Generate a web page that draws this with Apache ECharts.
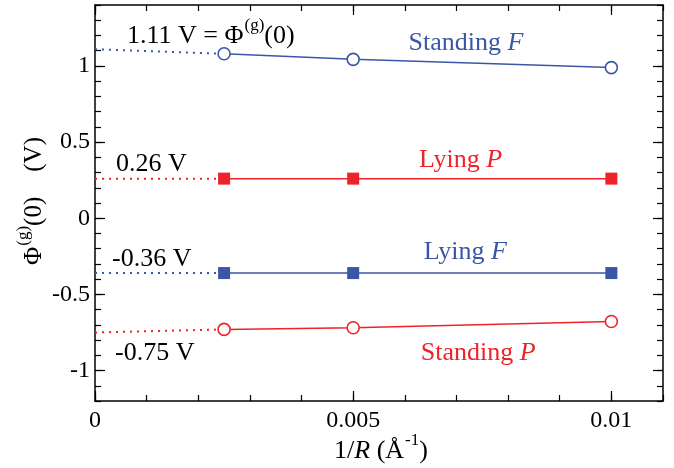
<!DOCTYPE html>
<html>
<head>
<meta charset="utf-8">
<script src="https://cdn.jsdelivr.net/npm/echarts@6/dist/echarts.min.js"></script>
<style>
  html, body { margin: 0; padding: 0; background: #fff; }
  #chart { width: 674px; height: 468px; }
</style>
</head>
<body>
<div id="chart"></div>
<script>
// Inverse cluster radius 1/R (Å^-1) at which the potential was computed
const invR = [0.0025, 0.005, 0.01];

// Φ^(g)(0) in volts for each configuration
const standingF = [1.08, 1.043, 0.989];
const lyingP = [0.26, 0.26, 0.26];
const lyingF = [-0.36, -0.36, -0.36];
const standingP = [-0.73, -0.719, -0.678];

// Extrapolated values at 1/R = 0
const limitStandingF = 1.11;
const limitLyingP = 0.26;
const limitLyingF = -0.36;
const limitStandingP = -0.75;

// Tick values
const xMajorTicks = [0, 0.005, 0.01];
const yMajorTicks = [-1, -0.5, 0, 0.5, 1];

const BLUE = '#3a56a6';
const RED = '#ee2229';
const FONT = '"Liberation Serif", "DejaVu Serif", serif';

const pairs = (xs, ys) => xs.map((x, i) => [x, ys[i]]);

const X_MIN = 0, X_MAX = 0.011, Y_MIN = -1.2, Y_MAX = 1.4;

function xAxisDef(pos, major, showLabels) {
  return {
    type: 'value', position: pos, min: X_MIN, max: X_MAX,
    interval: major ? 0.005 : 0.001,
    axisLine: { show: major, onZero: false, lineStyle: { color: '#000', width: 1.5 } },
    axisTick: major
      ? { inside: true, length: 10, customValues: xMajorTicks, lineStyle: { color: '#000', width: 1.2 } }
      : { inside: true, length: 6, lineStyle: { color: '#000', width: 1.2 } },
    axisLabel: major && showLabels
      ? { customValues: xMajorTicks, color: '#000', fontFamily: FONT, fontSize: 24, margin: 8,
          formatter: v => String(+v.toFixed(4)) }
      : { show: false },
    splitLine: { show: false }
  };
}

function yAxisDef(pos, major, showLabels) {
  return {
    type: 'value', position: pos, min: Y_MIN, max: Y_MAX,
    interval: 0.1,
    axisLine: { show: major, onZero: false, lineStyle: { color: '#000', width: 1.5 } },
    axisTick: major
      ? { inside: true, length: 10, customValues: yMajorTicks, lineStyle: { color: '#000', width: 1.2 } }
      : { inside: true, length: 6, lineStyle: { color: '#000', width: 1.2 } },
    axisLabel: major && showLabels
      ? { customValues: yMajorTicks, color: '#000', fontFamily: FONT, fontSize: 24, margin: 5,
          formatter: v => String(+v.toFixed(2)) }
      : { show: false },
    splitLine: { show: false }
  };
}

function fitSeries(name, ys, color, symbol) {
  return {
    name, type: 'line', xAxisIndex: 0, yAxisIndex: 0,
    data: pairs(invR, ys),
    symbol, symbolSize: symbol === 'circle' ? 12 : 12,
    showAllSymbol: true,
    lineStyle: { color, width: 1.5 },
    itemStyle: symbol === 'circle'
      ? { color: '#fff', borderColor: color, borderWidth: 1.6 }
      : { color, borderWidth: 0 },
    z: 3, animation: false
  };
}

function limitSeries(name, y0, y1, color) {
  return {
    name, type: 'line', xAxisIndex: 0, yAxisIndex: 0,
    data: [[0, y0], [invR[0], y1]],
    symbol: 'none',
    lineStyle: { color, width: 2, type: [2, 5] },
    z: 2, animation: false
  };
}

const chart = echarts.init(document.getElementById('chart'), null, { renderer: 'canvas' });

chart.setOption({
  backgroundColor: '#fff',
  animation: false,
  grid: { left: 95, right: 11, top: 5, bottom: 67, containLabel: false },
  xAxis: [
    xAxisDef('bottom', true, true),
    xAxisDef('bottom', false, false),
    xAxisDef('top', true, false),
    xAxisDef('top', false, false)
  ],
  yAxis: [
    yAxisDef('left', true, true),
    yAxisDef('left', false, false),
    yAxisDef('right', true, false),
    yAxisDef('right', false, false)
  ],
  series: [
    limitSeries('Standing F limit', limitStandingF, standingF[0], BLUE),
    limitSeries('Lying P limit', limitLyingP, lyingP[0], RED),
    limitSeries('Lying F limit', limitLyingF, lyingF[0], BLUE),
    limitSeries('Standing P limit', limitStandingP, standingP[0], RED),
    fitSeries('Standing F', standingF, BLUE, 'circle'),
    fitSeries('Lying P', lyingP, RED, 'rect'),
    fitSeries('Lying F', lyingF, BLUE, 'rect'),
    fitSeries('Standing P', standingP, RED, 'circle')
  ]
});

// Text annotations anchored to data coordinates
const px = (x, y) => chart.convertToPixel({ xAxisIndex: 0, yAxisIndex: 0 }, [x, y]);

function richStyles(color, size) {
  const supSize = Math.round(size * 0.66);
  const lh = size + 6;
  return {
    n: { fontFamily: FONT, fontSize: size, color, lineHeight: lh, verticalAlign: 'bottom' },
    sup: { fontFamily: FONT, fontSize: supSize, color, lineHeight: lh, verticalAlign: 'top', padding: [0, 0, 0, 1] },
    i: { fontFamily: FONT, fontSize: size, fontStyle: 'italic', color, lineHeight: lh, verticalAlign: 'bottom' }
  };
}

function textEl(pos, text, color, align, dx, dy, size, rotation) {
  return {
    type: 'text',
    x: pos[0] + dx, y: pos[1] + dy,
    rotation: rotation || 0,
    style: {
      text, align, verticalAlign: 'middle',
      fill: color,
      font: size + 'px ' + FONT,
      rich: richStyles(color, size)
    },
    z: 10
  };
}

const p0F = px(0, limitStandingF);
const p0P = px(0, limitLyingP);
const p0LF = px(0, limitLyingF);
const p0SP = px(0, limitStandingP);

const midStandF = px(0.0073, standingF[1]);
const midLyingP = px(0.00708, lyingP[1]);
const midLyingF = px(0.00717, lyingF[1]);
const midStandP = px(0.00742, standingP[1]);

chart.setOption({
  graphic: [
    textEl(p0F, '{n|1.11 V = Φ}{sup|(g)}{n|(0)}', '#000', 'left', 32, -16, 26),
    textEl(p0P, '{n|0.26 V}', '#000', 'left', 21, -17, 26),
    textEl(p0LF, '{n|-0.36 V}', '#000', 'left', 17, -17, 26),
    textEl(p0SP, '{n|-0.75 V}', '#000', 'left', 20, 18, 26),
    textEl(midStandF, '{n|Standing }{i|F}', BLUE, 'center', -6, -19, 26),
    textEl(midLyingP, '{n|Lying }{i|P}', RED, 'center', 0, -21, 26),
    textEl(midLyingF, '{n|Lying }{i|F}', BLUE, 'center', 0, -24, 26),
    textEl(midStandP, '{n|Standing }{i|P}', RED, 'center', 0, 22, 26),
    // axis titles
    textEl([381, 448], '{n|1/}{i|R}{n| (Å}{sup|-1}{n|)}', '#000', 'center', 0, 0, 26),
    textEl([31, 201], '{n|Φ}{sup|(g)}{n|(0)    (V)}', '#000', 'center', 0, 0, 25, Math.PI / 2)
  ]
});
</script>
</body>
</html>
